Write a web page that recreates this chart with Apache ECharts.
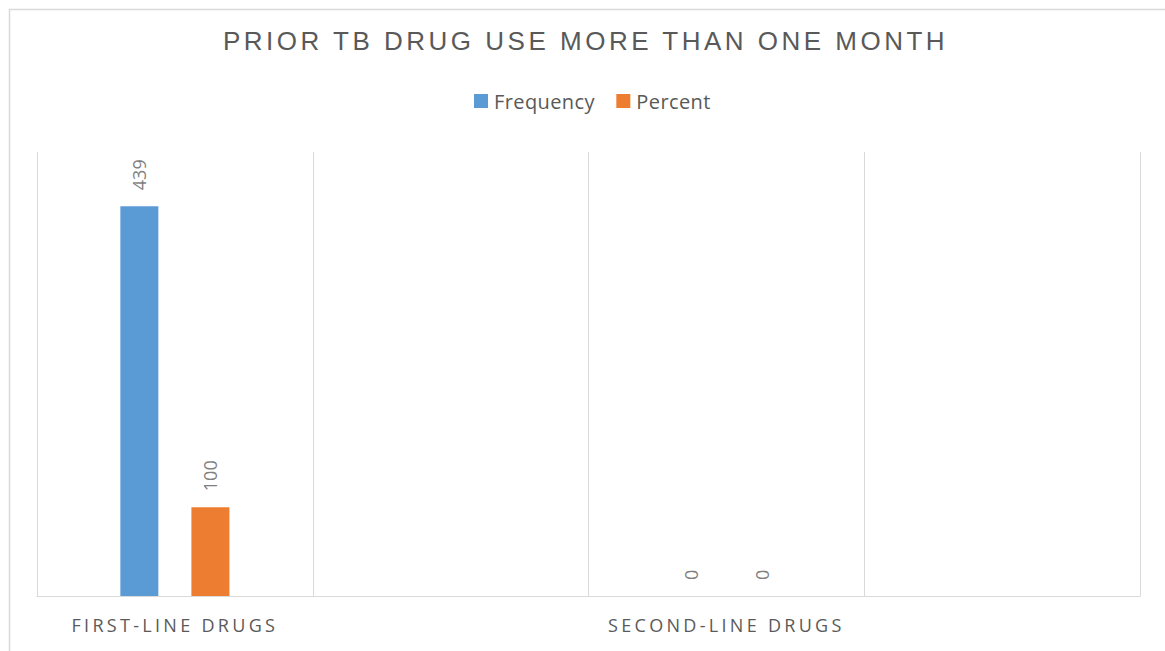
<!DOCTYPE html>
<html>
<head>
<meta charset="utf-8">
<script src="https://cdn.jsdelivr.net/npm/echarts@6/dist/echarts.min.js"></script>
<style>
  html, body { margin: 0; padding: 0; background: #ffffff; }
  #chart { width: 1165px; height: 651px; }
  /* tracked capitals for the title and the category labels */
  #chart text[fill="#595959"] { letter-spacing: 3.5px; }
  #chart text[fill="#5a5a5a"] { letter-spacing: 3.3px; }
  #chart text[fill="#595958"] { letter-spacing: 0.4px; }
</style>
</head>
<body>
<div id="chart"></div>
<script>
// Chart content
const chartTitle = 'PRIOR TB DRUG USE MORE THAN ONE MONTH';
const categories = ['FIRST-LINE DRUGS', '', 'SECOND-LINE DRUGS', ''];
const seriesNames = ['Frequency', 'Percent'];
const frequencyValues = [439, '-', 0, '-'];
const percentValues = [100, '-', 0, '-'];
const seriesColors = ['#5b9bd5', '#ed7d31'];
const valueAxisMax = 500;

const chart = echarts.init(document.getElementById('chart'), null, { renderer: 'svg' });

const valueLabel = {
  show: true,
  position: 'top',
  rotate: 90,
  align: 'left',
  verticalAlign: 'middle',
  distance: 16,
  color: '#7f7f7f',
  fontFamily: 'Open Sans',
  fontSize: 18
};

function makeSeries(name, values, color) {
  return {
    name: name,
    type: 'bar',
    data: values,
    barWidth: 38,
    barGap: '87%',
    itemStyle: { color: color },
    label: valueLabel,
    emphasis: { disabled: true }
  };
}

chart.setOption({
  animation: false,
  backgroundColor: '#ffffff',
  title: {
    text: chartTitle,
    left: 223,
    top: 28,
    padding: 0,
    textStyle: {
      color: '#595959',
      fontFamily: 'Liberation Sans',
      fontWeight: 'normal',
      fontSize: 26
    }
  },
  legend: {
    data: seriesNames,
    left: 474,
    top: 91,
    padding: 0,
    icon: 'rect',
    itemWidth: 14,
    itemHeight: 14,
    itemGap: 25,
    textStyle: {
      color: '#595958',
      fontFamily: 'Open Sans',
      fontSize: 20,
      padding: [0, 0, 0, 1]
    }
  },
  grid: { left: 37, right: 25, top: 152, bottom: 55, containLabel: false },
  xAxis: {
    type: 'category',
    data: categories,
    boundaryGap: true,
    axisLine: { show: true, lineStyle: { color: '#d9d9d9', width: 1 } },
    axisTick: { show: false },
    axisLabel: {
      interval: 0,
      margin: 20,
      color: '#5a5a5a',
      fontFamily: 'Open Sans',
      fontSize: 18
    },
    splitLine: { show: true, interval: 0, lineStyle: { color: '#d9d9d9', width: 1 } }
  },
  yAxis: {
    type: 'value',
    min: 0,
    max: valueAxisMax,
    axisLine: { show: false },
    axisTick: { show: false },
    axisLabel: { show: false },
    splitLine: { show: false }
  },
  graphic: [{
    type: 'rect',
    left: 7,
    top: 7,
    silent: true,
    z: -10,
    shape: { width: 1200, height: 700 },
    style: { fill: 'none', stroke: '#d9d9d9', lineWidth: 1.5 }
  }],
  series: [
    makeSeries(seriesNames[0], frequencyValues, seriesColors[0]),
    makeSeries(seriesNames[1], percentValues, seriesColors[1])
  ]
});
</script>
</body>
</html>
